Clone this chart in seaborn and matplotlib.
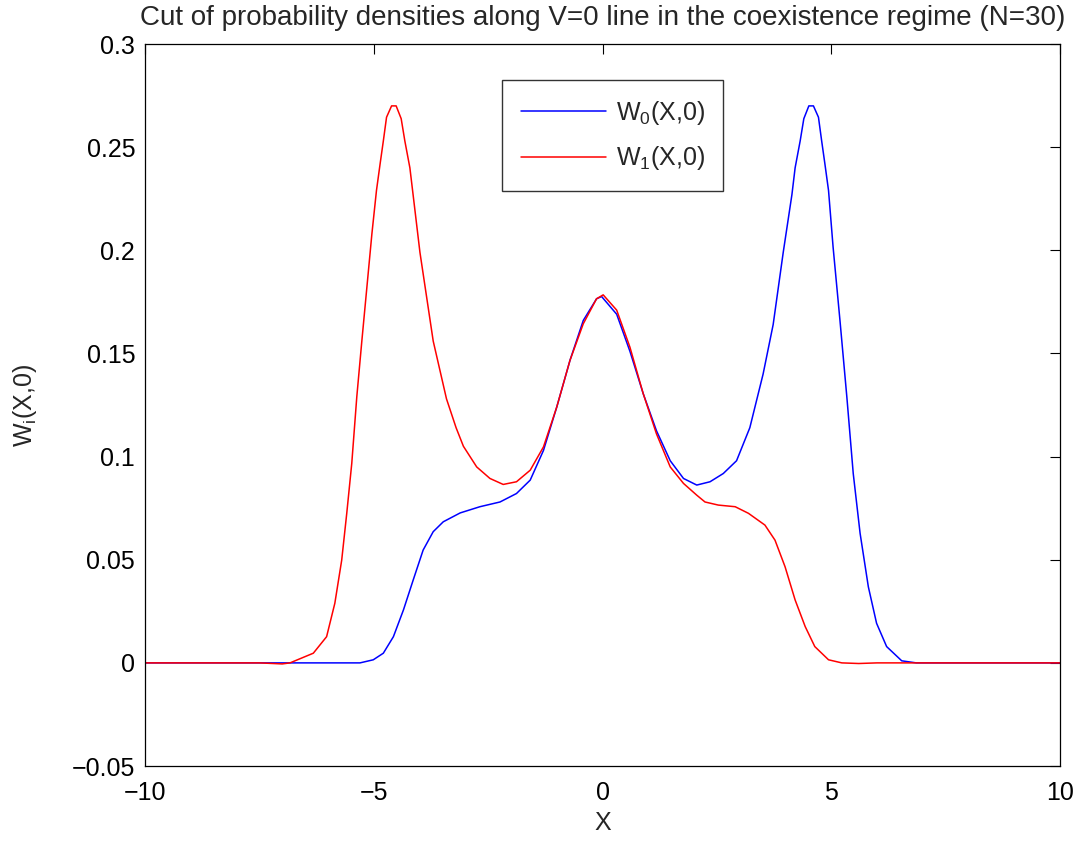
import numpy as np
import pandas as pd
import matplotlib
matplotlib.use("Agg")
from matplotlib import pyplot
import seaborn as sns

# W0(X,0) - blue curve
x_w0 = [-10, -5.30, -5.01, -4.79, -4.57, -4.35, -4.14, -3.92, -3.70, -3.48, -3.11, -2.68,
        -2.24, -1.88, -1.58, -1.29, -1.00, -0.71, -0.42, -0.13, -0.02, 0.31, 0.60, 0.89,
        1.18, 1.48, 1.77, 2.06, 2.35, 2.64, 2.93, 3.22, 3.51, 3.73, 3.95, 4.14, 4.21,
        4.32, 4.40, 4.51, 4.61, 4.72, 4.79, 4.86, 4.94, 5.04, 5.19, 5.34, 5.48, 5.63,
        5.81, 5.99, 6.21, 6.54, 6.86, 10]
y_w0 = [0, 0, 0.0015, 0.0047, 0.0127, 0.0257, 0.040, 0.0547, 0.0636, 0.0684, 0.0727,
        0.0757, 0.078, 0.0821, 0.0886, 0.103, 0.124, 0.1467, 0.166, 0.1765, 0.1776,
        0.169, 0.151, 0.1305, 0.1125, 0.098, 0.0894, 0.0862, 0.0878, 0.0918, 0.098,
        0.114, 0.140, 0.164, 0.199, 0.227, 0.240, 0.253, 0.2638, 0.270, 0.270, 0.2645,
        0.253, 0.242, 0.229, 0.2015, 0.166, 0.129, 0.0918, 0.0628, 0.0369, 0.0192,
        0.0079, 0.001, 0, 0]

# W1(X,0) - red curve
x_w1 = [-10, -7.5, -7.0, -6.83, -6.32, -6.03, -5.85, -5.70, -5.59, -5.48, -5.37, -5.26,
        -5.15, -5.04, -4.94, -4.86, -4.79, -4.72, -4.61, -4.51, -4.40, -4.32, -4.21,
        -4.14, -3.99, -3.70, -3.41, -3.20, -3.04, -2.75, -2.46, -2.17, -1.88, -1.58,
        -1.29, -1.00, -0.71, -0.42, -0.13, 0.015, 0.31, 0.60, 0.89, 1.18, 1.48, 1.77,
        2.06, 2.24, 2.53, 2.90, 3.19, 3.55, 3.77, 3.99, 4.21, 4.43, 4.64, 4.94, 5.23,
        5.6, 6.0, 10]
y_w1 = [0, 0, -0.0005, 0.0, 0.0047, 0.0127, 0.0289, 0.0498, 0.0724, 0.0967, 0.129,
        0.156, 0.182, 0.208, 0.229, 0.242, 0.253, 0.2645, 0.270, 0.270, 0.2638, 0.253,
        0.240, 0.227, 0.199, 0.156, 0.128, 0.114, 0.105, 0.095, 0.0894, 0.0865, 0.0878,
        0.0934, 0.1047, 0.124, 0.1467, 0.1644, 0.1765, 0.1784, 0.171, 0.153, 0.1305,
        0.111, 0.095, 0.087, 0.0813, 0.078, 0.0765, 0.0757, 0.0725, 0.0668, 0.0595,
        0.0466, 0.0305, 0.0176, 0.0079, 0.0015, 0.0, -0.0003, 0, 0]

series_names = ["W0", "W1"]
series_labels = [r"W$_0$(X,0)", r"W$_1$(X,0)"]
y_ticks = [-0.05, 0, 0.05, 0.1, 0.15, 0.2, 0.25, 0.3]
y_tick_labels = ["\u22120.05", "0", "0.05", "0.1", "0.15", "0.2", "0.25", "0.3"]
x_ticks = [-10, -5, 0, 5, 10]
x_tick_labels = ["\u221210", "\u22125", "0", "5", "10"]

df = pd.concat([
    pd.DataFrame({"X": x_w0, "W": y_w0, "series": series_names[0]}),
    pd.DataFrame({"X": x_w1, "W": y_w1, "series": series_names[1]}),
])

sns.set_style("white")
pyplot.rcParams["font.family"] = ["Liberation Sans", "DejaVu Sans"]
pyplot.rcParams["mathtext.fontset"] = "custom"
pyplot.rcParams["mathtext.rm"] = "Liberation Sans"
pyplot.rcParams["mathtext.it"] = "Liberation Sans"
pyplot.rcParams["mathtext.default"] = "regular"

fig = pyplot.figure(figsize=(10.85, 8.43), dpi=100)
ax = fig.add_axes([0.1336, 0.0913, 0.8434, 0.8565])

sns.lineplot(data=df, x="X", y="W", hue="series", sort=False,
             palette={"W0": "#0000ff", "W1": "#ff0000"}, linewidth=1.1, ax=ax)

ax.set_xlim(-10, 10)
ax.set_ylim(-0.05, 0.3)
ax.set_xticks(x_ticks)
ax.set_xticklabels(x_tick_labels)
ax.set_yticks(y_ticks)
ax.set_yticklabels(y_tick_labels)
ax.tick_params(direction="in", length=7, width=0.8, top=True, right=True,
               labelsize=18, colors="black")
ax.tick_params(axis="x", pad=11)
ax.tick_params(axis="y", pad=7)
for sp in ax.spines.values():
    sp.set_color("black")
    sp.set_linewidth(0.9)

ax.set_xlabel("X", fontsize=18, labelpad=4)
ax.set_ylabel(r"W$_i$(X,0)", fontsize=18, labelpad=24)
ax.set_title("Cut of probability densities along V=0 line in the coexistence regime (N=30)",
             fontsize=20, pad=14)

handles, _ = ax.get_legend_handles_labels()
leg = ax.legend(handles, series_labels, loc="upper left", bbox_to_anchor=(0.39, 0.95),
                borderaxespad=0, fontsize=18, frameon=True, fancybox=False,
                edgecolor="black", handlelength=3.4, borderpad=0.75, labelspacing=0.7,
                handletextpad=0.4)
leg.get_frame().set_linewidth(1.0)

pyplot.savefig("out.png", dpi=100)
